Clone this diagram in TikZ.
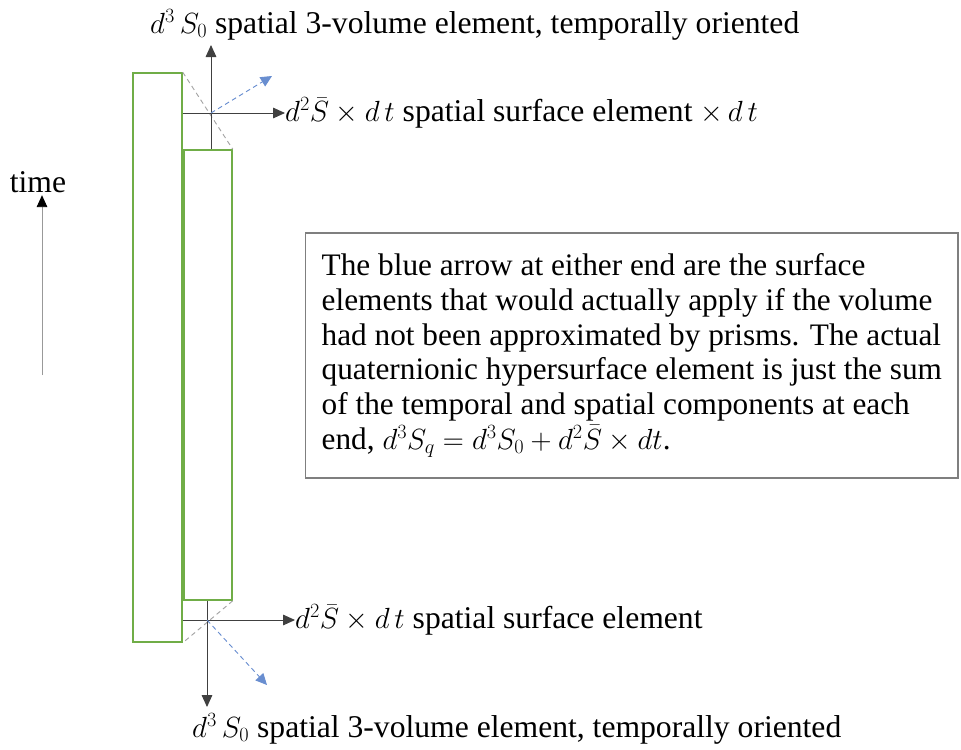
\documentclass[tikz,border=0pt]{standalone}
\usepackage{fontspec}
\setmainfont{Liberation Serif}
\usetikzlibrary{arrows.meta,positioning,calc}
\definecolor{prismGreen}{HTML}{70AD47}
\definecolor{normBlue}{HTML}{4472C4}
\definecolor{guideGray}{HTML}{A5A5A5}
\definecolor{boxGray}{HTML}{7F7F7F}
\tikzset{
  % green prism outline
  prism/.style={rectangle,draw=prismGreen,line width=1.3pt,
    inner sep=0pt,fill=white},
  % black normal arrow
  arr/.style={-{Triangle[length=3.6mm,width=3.2mm]},line width=0.8pt,
    color=black!75},
  % dashed guide line
  guide/.style={dashed,line width=0.8pt,color=guideGray,
    dash pattern=on 4pt off 3pt},
  % dashed blue arrow
  barr/.style={guide,color=normBlue!80,
    -{Triangle[length=3.4mm,width=3.2mm]}},
  lbl/.style={font=\fontsize{27}{30}\selectfont,inner sep=0pt},
  notebox/.style={rectangle,draw=boxGray,line width=1.2pt,
    minimum height=7.35cm,align=left,inner xsep=0.48cm,inner ysep=0pt,
    font=\fontsize{26.7}{29.6}\selectfont},
}
\begin{document}
\begin{tikzpicture}[x=0.03cm,y=-0.03cm]
  \useasboundingbox (0,0) rectangle (961,749);

  % the two prisms
  \node[prism,minimum width=1.47cm,minimum height=17.07cm] (outer)
    at (157.5,357.5) {};
  \node[prism,minimum width=1.44cm,minimum height=13.5cm] (inner)
    at (208,375) {};

  % crossing points of the normals
  \coordinate (tc) at (211,113);
  \coordinate (bc) at (207,620);
  \coordinate (ttip) at (211,45);
  \coordinate (btip) at (207,707);
  \coordinate (tblue) at (272,76);
  \coordinate (bblue) at (267,685);

  % labels
  \node[lbl,anchor=base west] (lbltop) at (150,33)
    {$d^3\,S_0$ spatial 3-volume element, temporally oriented};
  \node[lbl,anchor=west] (lblup) at (285,113)
    {$d^2\bar{S}\times d\,t$ spatial surface element $\times\, d\,t$};
  \node[lbl,anchor=west] (lbldown) at (295,620)
    {$d^2\bar{S}\times d\,t$ spatial surface element};
  \node[lbl,anchor=base west] (lblbot) at (192,737)
    {$d^3\,S_0$ spatial 3-volume element, temporally oriented};
  \node[lbl] (time) at (38,182) {time};

  % guides between the prism corners
  \draw[guide] (outer.north east) -- (inner.north east);
  \draw[guide] (inner.south east) -- (outer.south east);

  % top end
  \draw[arr] (tc |- inner.north) -- (ttip);
  \draw[arr] (outer.east |- tc) -- (lblup.west);
  \draw[barr] (tc) -- (tblue);

  % bottom end
  \draw[arr] (bc |- inner.south) -- (btip);
  \draw[arr] (outer.east |- bc) -- (lbldown.west);
  \draw[barr] (bc) -- (bblue);

  % time axis
  \coordinate (tfoot) at (42,375);
  \draw[line width=0.8pt,color=black!40,
    -{Triangle[length=3.6mm,width=3.2mm,color=black]}]
    (tfoot) -- ([yshift=-2pt]tfoot |- time.south);

  \node[notebox,anchor=west] (note) at (305,355.5)
    {The blue arrow at either end are the surface\\
     elements that would actually apply if the volume\\
     had not been approximated by prisms. The actual\\
     quaternionic hypersurface element is just the sum\\
     of the temporal and spatial components at each\\
     end, $d^3S_q=d^3S_0+d^2\bar{S}\times dt$.};
\end{tikzpicture}
\end{document}
